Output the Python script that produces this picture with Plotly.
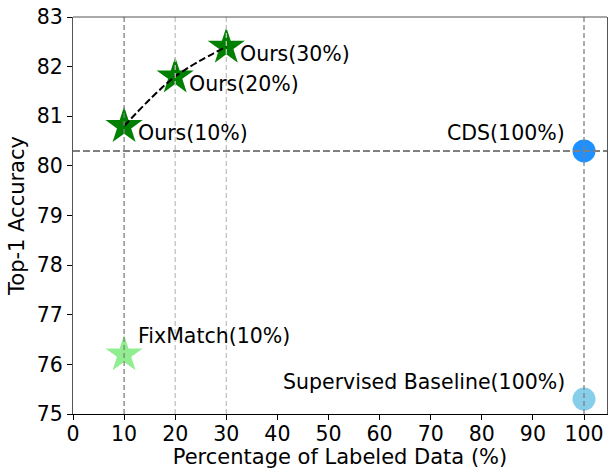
import plotly.graph_objects as go

# Data
ours_x = [10, 20, 30]
ours_y = [80.8, 81.8, 82.4]
ours_labels = ["Ours(10%)", "Ours(20%)", "Ours(30%)"]
fixmatch_x = [10]
fixmatch_y = [76.2]
fixmatch_label = "FixMatch(10%)"
cds_x = [100]
cds_y = [80.3]
cds_label = "CDS(100%)"
sup_x = [100]
sup_y = [75.3]
sup_label = "Supervised Baseline(100%)"
dark_vlines = [10, 100]
light_vlines = [20, 30]
x_ticks = [0, 10, 20, 30, 40, 50, 60, 70, 80, 90, 100]
y_ticks = [75, 76, 77, 78, 79, 80, 81, 82, 83]

FONT = "DejaVu Sans"
FS = 20.5
FT = 21

fig = go.Figure()

shapes = []
for v in dark_vlines:
    shapes.append(dict(type="line", xref="x", yref="paper", x0=v, x1=v, y0=0, y1=1,
                       line=dict(color="#808080", width=1.3, dash="5px,3px"), layer="above"))
for v in light_vlines:
    shapes.append(dict(type="line", xref="x", yref="paper", x0=v, x1=v, y0=0, y1=1,
                       line=dict(color="#c0c0c0", width=1.3, dash="5px,3px"), layer="above"))
shapes.append(dict(type="line", xref="paper", yref="y", x0=0, x1=1, y0=cds_y[0], y1=cds_y[0],
                   line=dict(color="#808080", width=2, dash="7px,3px"), layer="above"))
# top frame line
shapes.append(dict(type="line", xref="paper", yref="paper", x0=0, x1=1, y0=1, y1=1,
                   line=dict(color="#555555", width=1.2)))

fig.add_trace(go.Scatter(x=ours_x, y=ours_y, mode="markers",
                         marker=dict(symbol="star", size=28, color="#008000", line=dict(width=0)),
                         showlegend=False))
fig.add_trace(go.Scatter(x=fixmatch_x, y=fixmatch_y, mode="markers",
                         marker=dict(symbol="star", size=28, color="#90EE90", line=dict(width=0)),
                         showlegend=False))
fig.add_trace(go.Scatter(x=cds_x, y=cds_y, mode="markers",
                         marker=dict(symbol="circle", size=23, color="#1E90FF", line=dict(width=0)),
                         showlegend=False))
fig.add_trace(go.Scatter(x=sup_x, y=sup_y, mode="markers",
                         marker=dict(symbol="circle", size=23, color="#87CEEB", line=dict(width=0)),
                         showlegend=False))
fig.add_trace(go.Scatter(x=ours_x, y=ours_y, mode="lines",
                         line=dict(color="black", width=2, dash="7px,3px", shape="spline"),
                         showlegend=False, hoverinfo="skip"))

annotations = []
for x, y, t in zip(ours_x, ours_y, ours_labels):
    annotations.append(dict(x=x, y=y, text=t, showarrow=False, xanchor="left", yanchor="middle",
                            xshift=12, yshift=-7, font=dict(family=FONT, size=FS, color="black")))
annotations.append(dict(x=fixmatch_x[0], y=fixmatch_y[0], text=fixmatch_label, showarrow=False,
                        xanchor="left", yanchor="middle", xshift=12, yshift=18,
                        font=dict(family=FONT, size=FS, color="black")))
annotations.append(dict(x=cds_x[0], y=cds_y[0], text=cds_label, showarrow=False,
                        xanchor="right", yanchor="middle", xshift=-17, yshift=18,
                        font=dict(family=FONT, size=FS, color="black")))
annotations.append(dict(x=sup_x[0], y=sup_y[0], text=sup_label, showarrow=False,
                        xanchor="right", yanchor="middle", xshift=-17, yshift=17,
                        font=dict(family=FONT, size=FS, color="black")))

fig.update_layout(
    width=612, height=469,
    margin=dict(l=73, r=5, t=17, b=55),
    plot_bgcolor="white", paper_bgcolor="white",
    font=dict(family=FONT, size=FS, color="black"),
    shapes=shapes, annotations=annotations,
    xaxis=dict(range=[0, 104.5], tickvals=x_ticks, showgrid=False, zeroline=False,
               showline=True, linecolor="black", linewidth=1.2, mirror=False,
               ticks="outside", ticklen=5, tickcolor="black", tickwidth=1,
               ticklabelstandoff=-4, automargin=False,
               tickfont=dict(family=FONT, size=FS),
               title=dict(text="Percentage of Labeled Data (%)", font=dict(family=FONT, size=FT), standoff=8)),
    yaxis=dict(range=[75, 83], tickvals=y_ticks, showgrid=False, zeroline=False,
               showline=True, linecolor="#555555", linewidth=1.2, mirror=True,
               ticks="outside", ticklen=5, tickcolor="black", tickwidth=1,
               automargin=False,
               tickfont=dict(family=FONT, size=FS),
               title=dict(text="Top-1 Accuracy", font=dict(family=FONT, size=FT), standoff=6)),
)

fig.write_html("out.html")
